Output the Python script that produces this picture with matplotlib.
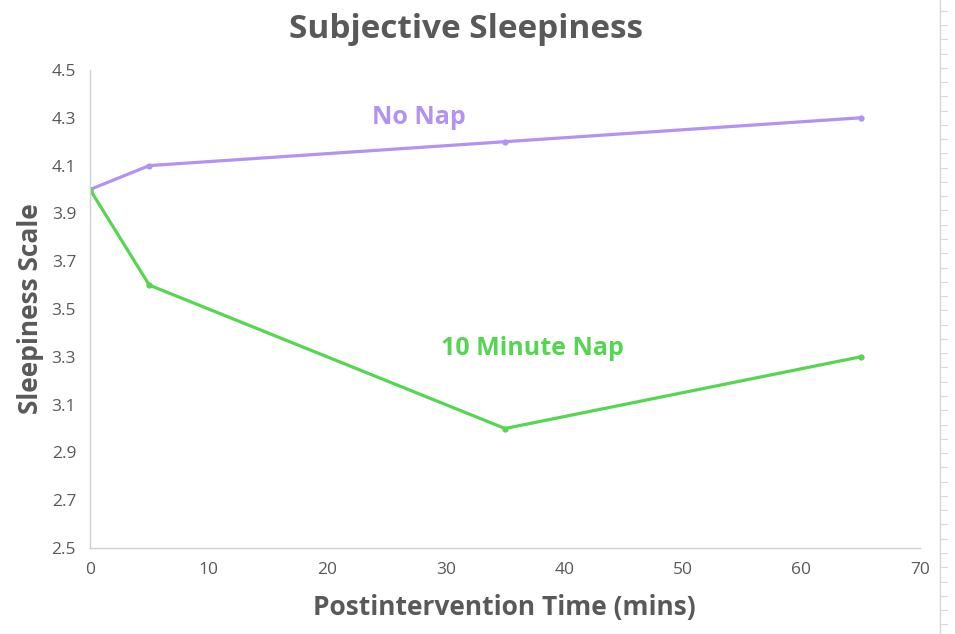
import numpy as np
import matplotlib
matplotlib.use("Agg")
import matplotlib.pyplot as plt
from matplotlib.lines import Line2D

plt.rcParams['font.family'] = ['Open Sans', 'DejaVu Sans']

# Sleepiness ratings after the intervention
time_mins = [0, 5, 35, 65]
no_nap = [4.0, 4.1, 4.2, 4.3]
ten_min_nap = [4.0, 3.6, 3.0, 3.3]

y_ticks = [2.5, 2.7, 2.9, 3.1, 3.3, 3.5, 3.7, 3.9, 4.1, 4.3, 4.5]
x_ticks = [0, 10, 20, 30, 40, 50, 60, 70]

PURPLE = '#b292f2'
GREEN = '#55d651'
GREY = '#595959'

W, H = 955, 634
fig = plt.figure(figsize=(W / 100, H / 100), dpi=100)
ax = fig.add_axes([90 / W, 1 - 548 / H, 830 / W, 478 / H])

ax.plot(time_mins, no_nap, color=PURPLE, lw=2.3, marker='o', ms=3.5,
        solid_capstyle='round')
ax.plot(time_mins, ten_min_nap, color=GREEN, lw=2.3, marker='o', ms=3.5,
        solid_capstyle='round')

# series names placed next to their lines
ax.text(27.7, 4.3, "No Nap", color=PURPLE,
        fontsize=18, fontweight='bold', ha='center', va='center')
ax.text(37.3, 3.335, "10 Minute Nap", color=GREEN,
        fontsize=18, fontweight='bold', ha='center', va='center')

ax.set_xlim(0, 70)
ax.set_ylim(2.5, 4.5)
ax.set_xticks(x_ticks)
ax.set_yticks(y_ticks)
ax.set_yticklabels([f"{v:.1f}" for v in y_ticks])
ax.tick_params(length=0, labelsize=12.5, labelcolor=GREY, pad=10)
ax.tick_params(axis='x', pad=10)

for side in ('top', 'right'):
    ax.spines[side].set_visible(False)
for side in ('left', 'bottom'):
    ax.spines[side].set_color('#d0d0d0')
    ax.spines[side].set_linewidth(1.0)

fig.text(466 / W, 1 - 30 / H, "Subjective Sleepiness", color=GREY,
         fontsize=24, fontweight='bold', ha='center', va='center')
fig.text(504 / W, 1 - 607 / H, "Postintervention Time (mins)", color=GREY,
         fontsize=19, fontweight='bold', ha='center', va='center')
fig.text(30 / W, 1 - 309 / H, "Sleepiness Scale", color=GREY,
         fontsize=19, fontweight='bold', ha='center', va='center',
         rotation=90)

# ruler strip on the right edge
fig.add_artist(Line2D([940 / W, 940 / W], [0, 1], color='#d8d8d8', lw=1.0,
                      transform=fig.transFigure))
for yp in np.arange(10.7, H, 14.27):
    fig.add_artist(Line2D([941 / W, 947 / W], [1 - yp / H, 1 - yp / H],
                          color='#d8d8d8', lw=0.8, transform=fig.transFigure))

fig.savefig("out.png", dpi=100)
